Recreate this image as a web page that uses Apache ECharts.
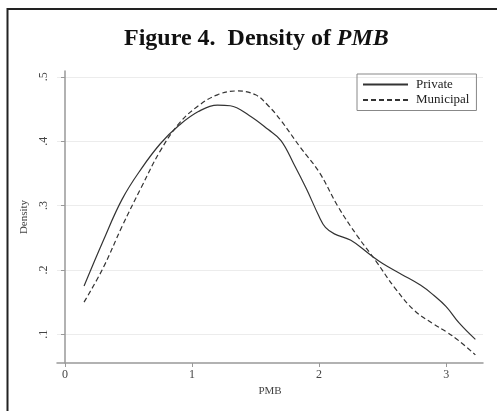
<!DOCTYPE html>
<html>
<head>
<meta charset="utf-8">
<script src="https://cdn.jsdelivr.net/npm/echarts@6/dist/echarts.min.js"></script>
<style>html,body{margin:0;padding:0;background:#fff}#c{width:497px;height:411px}</style>
</head>
<body>
<div id="c"></div>
<script>
// PMB values and estimated kernel densities
const privateX = [0.15,0.3,0.45,0.6,0.75,0.9,1.05,1.2,1.3,1.45,1.6,1.7,1.8,1.9,2.0,2.05,2.12,2.25,2.4,2.5,2.65,2.8,2.9,3.0,3.1,3.23];
const privateY = [0.175,0.245,0.31,0.357,0.396,0.425,0.446,0.456,0.455,0.440,0.418,0.401,0.365,0.326,0.283,0.266,0.256,0.246,0.224,0.210,0.193,0.176,0.161,0.143,0.118,0.092];
const municipalX = [0.15,0.3,0.45,0.6,0.75,0.9,1.05,1.2,1.35,1.5,1.6,1.7,1.85,2.0,2.15,2.3,2.45,2.6,2.75,2.9,3.0,3.1,3.23];
const municipalY = [0.150,0.203,0.268,0.328,0.385,0.428,0.455,0.472,0.478,0.472,0.455,0.432,0.391,0.352,0.298,0.253,0.213,0.171,0.137,0.116,0.104,0.090,0.068];
const xTicks = [0,1,2,3];
const yTicks = [0.1,0.2,0.3,0.4,0.5];
const yTickLabels = ['.1','.2','.3','.4','.5'];

const pair = (xs, ys) => xs.map((x, i) => [x, ys[i]]);
const serif = '"Liberation Serif", "DejaVu Serif", serif';
const chart = echarts.init(document.getElementById('c'));
chart.setOption({
  animation: false,
  backgroundColor: '#fff',
  title: {
    text: '{a|Figure 4.  Density of }{b|PMB}',
    left: 119,
    top: 22,
    textStyle: {
      rich: {
        a: { fontFamily: serif, fontWeight: 'bold', fontSize: 24, color: '#111' },
        b: { fontFamily: serif, fontWeight: 'bold', fontStyle: 'italic', fontSize: 24, color: '#111' }
      }
    }
  },
  graphic: [
    { type: 'line', shape: { x1: 7.5, y1: 8, x2: 7.5, y2: 411 }, style: { stroke: '#222', lineWidth: 2 } },
    { type: 'line', shape: { x1: 7, y1: 9, x2: 497, y2: 9 }, style: { stroke: '#222', lineWidth: 2 } }
  ],
  legend: {
    orient: 'vertical',
    left: 357,
    top: 74,
    padding: [4, 7, 4, 5],
    itemWidth: 45,
    itemHeight: 14,
    itemGap: 2.5,
    borderColor: '#888',
    borderWidth: 1,
    itemStyle: { opacity: 0 },
    textStyle: { fontFamily: serif, fontSize: 13, color: '#222', padding: [0, 0, 0, 3] },
    data: ['Private', 'Municipal']
  },
  grid: { left: 57, right: 14, top: 71, bottom: 48 },
  xAxis: {
    type: 'value',
    min: -0.063,
    max: 3.29,
    name: 'PMB',
    nameLocation: 'middle',
    nameGap: 18,
    nameTextStyle: { fontFamily: serif, fontSize: 11, color: '#444' },
    axisLine: { show: true, lineStyle: { color: '#999', width: 1.5 } },
    axisTick: { show: true, length: 4, lineStyle: { color: '#999' }, customValues: xTicks },
    axisLabel: { fontFamily: serif, fontSize: 12, color: '#444', margin: 6, customValues: xTicks },
    splitLine: { show: false }
  },
  yAxis: {
    type: 'value',
    min: 0.0554,
    max: 0.509,
    name: 'Density',
    nameLocation: 'middle',
    nameGap: 27,
    nameTextStyle: { fontFamily: serif, fontSize: 11, color: '#444' },
    axisLine: { show: true, lineStyle: { color: '#999', width: 1.5 } },
    axisTick: { show: true, length: 4, lineStyle: { color: '#999' }, customValues: yTicks },
    axisLabel: {
      fontFamily: serif, fontSize: 12, color: '#444', rotate: 90, margin: 7,
      customValues: yTicks,
      formatter: v => yTickLabels[yTicks.findIndex(t => Math.abs(t - v) < 1e-6)] || ''
    },
    splitLine: { show: true, lineStyle: { color: '#ececec', width: 1.2 } }
  },
  series: [
    {
      name: 'Private', type: 'line', smooth: 0.4, symbol: 'none',
      lineStyle: { color: '#333', width: 1.2, type: 'solid' },
      itemStyle: { color: '#333' },
      data: pair(privateX, privateY)
    },
    {
      name: 'Municipal', type: 'line', smooth: 0.4, symbol: 'none',
      lineStyle: { color: '#333', width: 1.2, type: [5, 3] },
      itemStyle: { color: '#333' },
      data: pair(municipalX, municipalY)
    }
  ]
});
</script>
</body>
</html>
